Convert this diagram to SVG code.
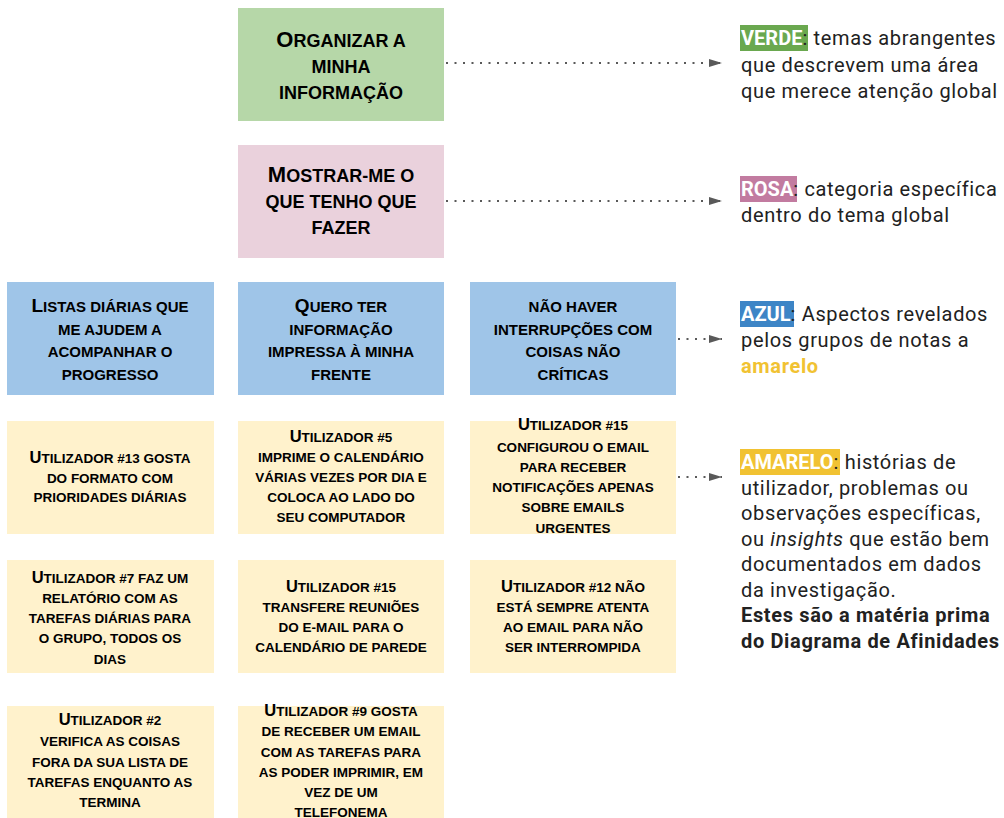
<svg xmlns="http://www.w3.org/2000/svg" width="1004" height="818" viewBox="0 0 1004 818">
<style>
.g{fill:#b6d7a8}.p{fill:#ead1dc}.b{fill:#9fc5e8}.y{fill:#fff2cc}
.h{font-family:"Liberation Sans",Arial,sans-serif;font-weight:bold;text-transform:uppercase;text-anchor:middle;fill:#000}
.h1{font-size:18px}.h1 .k{font-size:22px}
.h2{font-size:15px}.h2 .k{font-size:19px}
.h3{font-size:13.5px}.h3 .k{font-size:16.5px}
.l{font-family:Roboto,"Liberation Sans",sans-serif;font-size:20px;fill:#212121;letter-spacing:0.65px}
.tag{fill:#fff;font-weight:bold;letter-spacing:0}
.c{stroke:#595959;stroke-width:2;stroke-dasharray:2 6.5;fill:none}
</style>
<defs>
<marker id="ah" markerWidth="14" markerHeight="10" refX="13" refY="5" orient="auto" markerUnits="userSpaceOnUse">
<path d="M0,1 L13,5 L0,9 Z" fill="#595959"/>
</marker>
</defs>
<g id="connectors">
<path class="c" d="M446,63 H722" marker-end="url(#ah)"/>
<path class="c" d="M446,201 H722" marker-end="url(#ah)"/>
<path class="c" d="M678,339 H722" marker-end="url(#ah)"/>
<path class="c" d="M678,477 H722" marker-end="url(#ah)"/>
</g>
<g id="n-green"><rect class="g" x="238" y="8" width="206" height="113"/>
<text class="h h1"><tspan x="341" y="47"><tspan class="k">O</tspan>rganizar a</tspan><tspan x="341" y="73">minha</tspan><tspan x="341" y="99">informação</tspan></text></g>
<g id="n-pink"><rect class="p" x="238" y="145" width="206" height="113"/>
<text class="h h1"><tspan x="341" y="182"><tspan class="k">M</tspan>ostrar-me o</tspan><tspan x="341" y="208">que tenho que</tspan><tspan x="341" y="234">fazer</tspan></text></g>
<g id="n-blue1"><rect class="b" x="7" y="282" width="207" height="113"/>
<text class="h h2"><tspan x="110" y="312"><tspan class="k">L</tspan>istas diárias que</tspan><tspan x="110" y="335">me ajudem a</tspan><tspan x="110" y="357">acompanhar o</tspan><tspan x="110" y="380">progresso</tspan></text></g>
<g id="n-blue2"><rect class="b" x="238" y="282" width="206" height="113"/>
<text class="h h2"><tspan x="341" y="312"><tspan class="k">Q</tspan>uero ter</tspan><tspan x="341" y="335">informação</tspan><tspan x="341" y="357">impressa à minha</tspan><tspan x="341" y="380">frente</tspan></text></g>
<g id="n-blue3"><rect class="b" x="470" y="282" width="206" height="113"/>
<text class="h h2"><tspan x="573" y="312">não haver</tspan><tspan x="573" y="335">interrupções com</tspan><tspan x="573" y="357">coisas não</tspan><tspan x="573" y="380">críticas</tspan></text></g>
<g id="n-y1"><rect class="y" x="7" y="421" width="207" height="113"/>
<text class="h h3"><tspan x="110" y="463"><tspan class="k">U</tspan>tilizador #13 gosta</tspan><tspan x="110" y="483">do formato com</tspan><tspan x="110" y="502">prioridades diárias</tspan></text></g>
<g id="n-y2"><rect class="y" x="238" y="421" width="206" height="113"/>
<text class="h h3"><tspan x="341" y="442"><tspan class="k">U</tspan>tilizador #5</tspan><tspan x="341" y="462">imprime o calendário</tspan><tspan x="341" y="482">várias vezes por dia e</tspan><tspan x="341" y="502">coloca ao lado do</tspan><tspan x="341" y="522">seu computador</tspan></text></g>
<g id="n-y3"><rect class="y" x="470" y="421" width="206" height="113"/>
<text class="h h3"><tspan x="573" y="430"><tspan class="k">U</tspan>tilizador #15</tspan><tspan x="573" y="452">configurou o email</tspan><tspan x="573" y="472">para receber</tspan><tspan x="573" y="492">notificações apenas</tspan><tspan x="573" y="512">sobre emails</tspan><tspan x="573" y="533">urgentes</tspan></text></g>
<g id="n-y4"><rect class="y" x="7" y="560" width="207" height="113"/>
<text class="h h3"><tspan x="110" y="583"><tspan class="k">U</tspan>tilizador #7 faz um</tspan><tspan x="110" y="603">relatório com as</tspan><tspan x="110" y="623">tarefas diárias para</tspan><tspan x="110" y="643">o grupo, todos os</tspan><tspan x="110" y="664">dias</tspan></text></g>
<g id="n-y5"><rect class="y" x="238" y="560" width="206" height="113"/>
<text class="h h3"><tspan x="341" y="592"><tspan class="k">U</tspan>tilizador #15</tspan><tspan x="341" y="612">transfere reuniões</tspan><tspan x="341" y="632">do e-mail para o</tspan><tspan x="341" y="652">calendário de parede</tspan></text></g>
<g id="n-y6"><rect class="y" x="470" y="560" width="206" height="113"/>
<text class="h h3"><tspan x="573" y="592"><tspan class="k">U</tspan>tilizador #12 não</tspan><tspan x="573" y="612">está sempre atenta</tspan><tspan x="573" y="632">ao email para não</tspan><tspan x="573" y="652">ser interrompida</tspan></text></g>
<g id="n-y7"><rect class="y" x="7" y="706" width="207" height="112"/>
<text class="h h3"><tspan x="110" y="725"><tspan class="k">U</tspan>tilizador #2</tspan><tspan x="110" y="746">verifica as coisas</tspan><tspan x="110" y="767">fora da sua lista de</tspan><tspan x="110" y="787">tarefas enquanto as</tspan><tspan x="110" y="807">termina</tspan></text></g>
<g id="n-y8"><rect class="y" x="238" y="706" width="206" height="112"/>
<text class="h h3"><tspan x="341" y="716"><tspan class="k">U</tspan>tilizador #9 gosta</tspan><tspan x="341" y="736">de receber um email</tspan><tspan x="341" y="757">com as tarefas para</tspan><tspan x="341" y="777">as poder imprimir, em</tspan><tspan x="341" y="797">vez de um</tspan><tspan x="341" y="817">telefonema</tspan></text></g>
<g id="legend-verde">
<rect x="740" y="25" width="68" height="26" fill="#6aa84f"/>
<text class="l"><tspan x="741" y="45"><tspan class="tag">VERDE</tspan>: temas abrangentes</tspan><tspan x="741" y="71.5">que descrevem uma área</tspan><tspan x="741" y="98">que merece atenção global</tspan></text>
</g>
<g id="legend-rosa">
<rect x="740" y="176" width="57" height="26" fill="#c27ba0"/>
<text class="l"><tspan x="741" y="196"><tspan class="tag">ROSA</tspan>: categoria específica</tspan><tspan x="741" y="222">dentro do tema global</tspan></text>
</g>
<g id="legend-azul">
<rect x="740" y="301" width="54" height="26" fill="#3d85c6"/>
<text class="l"><tspan x="741" y="321"><tspan class="tag">AZUL</tspan>: Aspectos revelados</tspan><tspan x="741" y="347">pelos grupos de notas a</tspan><tspan x="741" y="373" font-weight="bold" fill="#f1c232">amarelo</tspan></text>
</g>
<g id="legend-amarelo">
<rect x="740" y="449" width="100" height="26" fill="#f1c232"/>
<text class="l"><tspan x="741" y="469"><tspan class="tag">AMARELO</tspan>: histórias de</tspan><tspan x="741" y="494.5">utilizador, problemas ou</tspan><tspan x="741" y="520">observações específicas,</tspan><tspan x="741" y="545.5">ou <tspan font-style="italic">insights</tspan> que estão bem</tspan><tspan x="741" y="571">documentados em dados</tspan><tspan x="741" y="596.5">da investigação.</tspan><tspan x="741" y="622" font-weight="bold">Estes são a matéria prima</tspan><tspan x="741" y="647.5" font-weight="bold">do Diagrama de Afinidades</tspan></text>
</g>
</svg>
